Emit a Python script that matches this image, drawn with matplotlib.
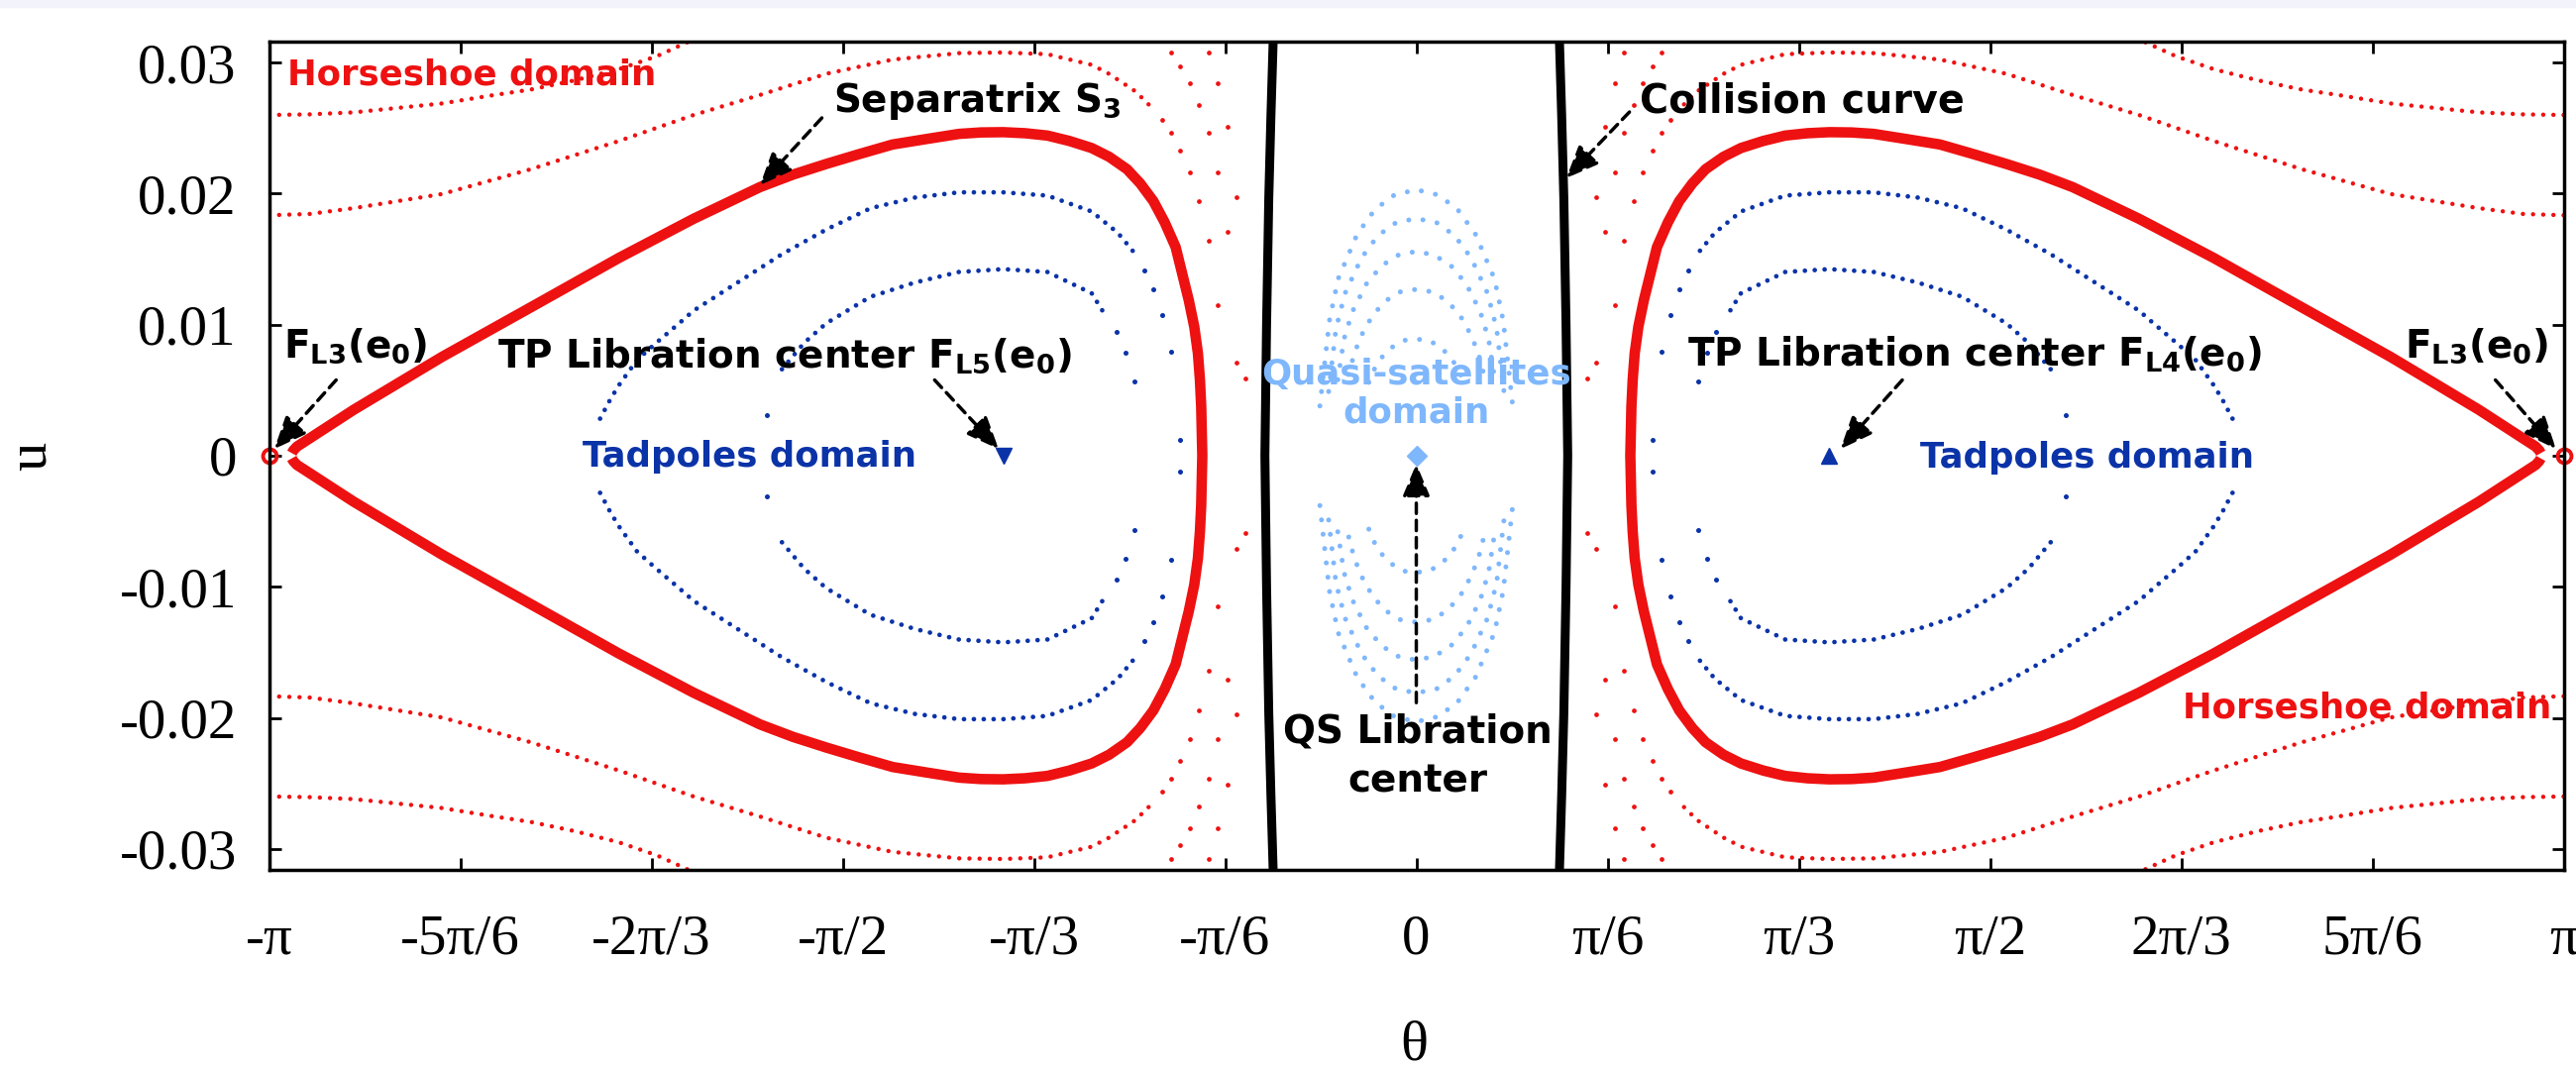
import numpy as np
import matplotlib
matplotlib.use("Agg")
import matplotlib.pyplot as plt
from matplotlib.patches import Rectangle

PI = np.pi
RED = "#ee1111"
BLUE = "#0b33a8"
LBLUE = "#7fb7fc"

# ------------------------------------------------------------------
# Values, upper-left quadrant (theta < 0, u > 0).
# The portrait is symmetric: the other quadrants are its mirror images
# in theta and in u.
# ------------------------------------------------------------------

# separatrix S3, from the L3 cusp to u = 0 next to the collision curve
sep_theta = [-3.079, -3.075, -3.065, -3.050, -3.030, -2.910, -2.668, -2.425,
             -2.183, -1.979, -1.888, -1.797, -1.707, -1.615, -1.525, -1.434,
             -1.343, -1.252, -1.192, -1.131, -1.071, -1.010, -0.950, -0.889,
             -0.841, -0.792, -0.756, -0.720, -0.689, -0.659, -0.641, -0.623,
             -0.608, -0.598, -0.5925, -0.589, -0.5875, -0.586]
sep_u = [0.0002, 0.0004, 0.0007, 0.00097, 0.00133, 0.0035, 0.00754, 0.01132,
         0.0151, 0.01808, 0.01929, 0.0205, 0.02145, 0.02227, 0.02302, 0.02375,
         0.02416, 0.02456, 0.02467, 0.02469, 0.02461, 0.02443, 0.02402, 0.02348,
         0.02281, 0.02186, 0.02078, 0.01943, 0.01781, 0.01592, 0.01389, 0.01186,
         0.00984, 0.00782, 0.00579, 0.00376, 0.00187, 0.0]

# tadpole orbits around L5 (dotted arcs + isolated dots on the steep ends)
tp_outer_theta = [-2.235, -2.207, -2.183, -2.134, -2.086, -2.013, -1.979, -1.859,
                  -1.737, -1.615, -1.494, -1.373, -1.252, -1.131, -1.010, -0.889,
                  -0.817, -0.769]
tp_outer_u = [0.00283, 0.0043, 0.0054, 0.0073, 0.0085, 0.01024, 0.01107, 0.01321,
              0.01538, 0.01727, 0.01889, 0.0197, 0.0201, 0.0201, 0.01985, 0.01864,
              0.0170, 0.01538]
tp_outer_end_theta = [-0.746, -0.720, -0.696, -0.671, -0.647]
tp_outer_end_u = [0.01416, 0.01267, 0.01077, 0.00797, 0.0012]

tp_inner_theta = [-1.737, -1.676, -1.616, -1.495, -1.374, -1.253, -1.131, -1.010,
                  -0.889, -0.847]
tp_inner_u = [0.0066, 0.00862, 0.0101, 0.01213, 0.01321, 0.01402, 0.01424, 0.01402,
              0.0124, 0.01051]
tp_inner_end_theta = [-1.779, -0.821, -0.796, -0.7705]
tp_inner_end_u = [0.00308, 0.00943, 0.00787, 0.0057]

# horseshoe orbits
hs_inner_theta = [-PI, -3.03, -2.910, -2.668, -2.425, -2.183, -1.979, -1.797, -1.615,
                  -1.434, -1.252, -1.131, -1.010, -0.889, -0.842, -0.798, -0.769, -0.720]
hs_inner_u = [0.01835, 0.01845, 0.01889, 0.01997, 0.02186, 0.02402, 0.0260, 0.02753,
              0.02915, 0.03023, 0.03072, 0.03077, 0.03064, 0.02983, 0.02915, 0.02834,
              0.0278, 0.02645]
hs_inner_steep_theta = [-0.6957, -0.6713, -0.6469, -0.6192, -0.5948, -0.5682, -0.5440]
hs_inner_steep_u = [0.02564, 0.02461, 0.02326, 0.02164, 0.01943, 0.01638, 0.01146]

hs_outer_theta = [-PI, -3.03, -2.910, -2.668, -2.5285, -2.425, -2.3036, -2.183,
                  -2.0785, -1.977]
hs_outer_u = [0.0260, 0.02605, 0.0262, 0.02688, 0.02751, 0.02794, 0.02865, 0.02950,
              0.03050, 0.0318]
hs_outer_steep_theta = [-0.6713, -0.6469, -0.6192, -0.5948, -0.5682, -0.5440, -0.5174,
                        -0.4919]
hs_outer_steep_u = [0.03077, 0.02969, 0.02843, 0.02677, 0.02461, 0.02164, 0.01708,
                    0.00714]

# orbit whose arc lies above the frame, only its steep part is visible
hs_top_steep_theta = [-0.5682, -0.5440, -0.5174, -0.4919, -0.4677]
hs_top_steep_u = [0.03077, 0.02843, 0.0251, 0.01975, 0.00592]

# collision curve (left one, full height)
col_theta = [-0.390, -0.392, -0.398, -0.404, -0.410, -0.4146, -0.410, -0.404, -0.398,
             -0.392, -0.390]
col_u = [0.0330, 0.0316, 0.026, 0.0196, 0.010, 0.0, -0.010, -0.0196, -0.026, -0.0316,
         -0.0330]

# quasi-satellite orbits: right half of each upper arc (from the top outwards)
qs_theta = [
    [0.0, 0.060, 0.113, 0.162, 0.214, 0.238, 0.264],
    [0.0, 0.055, 0.105, 0.150, 0.195, 0.220, 0.240],
    [0.0, 0.050, 0.095, 0.137, 0.175, 0.198, 0.215],
    [0.0, 0.045, 0.085, 0.120, 0.150, 0.170, 0.185],
    [0.0, 0.035, 0.065, 0.092, 0.115, 0.130],
]
qs_u = [
    [0.0203, 0.0199, 0.0188, 0.0169, 0.0135, 0.0103, 0.0038],
    [0.0181, 0.0178, 0.0168, 0.0151, 0.0124, 0.0097, 0.0049],
    [0.0156, 0.0153, 0.0145, 0.0131, 0.0110, 0.0089, 0.0058],
    [0.0127, 0.0125, 0.0118, 0.0107, 0.0092, 0.0078, 0.0062],
    [0.0089, 0.0088, 0.0083, 0.0076, 0.0066, 0.0056],
]

# equilibria
l3_theta = [-PI, PI]
l5_theta, l4_theta = -1.131, 1.131

xtick_labels = ["-π", "-5π/6", "-2π/3", "-π/2", "-π/3", "-π/6", "0",
                "π/6", "π/3", "π/2", "2π/3", "5π/6", "π"]
ytick_values = [-0.03, -0.02, -0.01, 0.0, 0.01, 0.02, 0.03]
ytick_labels = ["-0.03", "-0.02", "-0.01", "0", "0.01", "0.02", "0.03"]


def mirrors(th, u):
    th = np.asarray(th, dtype=float)
    u = np.asarray(u, dtype=float)
    return [(th, u), (th, -u), (-th, u), (-th, -u)]


def dotted(ax, th, u, color, lw=3.2, gap=2.3, z=3):
    ax.plot(th, u, color=color, lw=lw, ls=(0, (0.01, gap)),
            dash_capstyle="round", zorder=z)


def dots(ax, th, u, color, ms=3.4, z=3):
    ax.plot(th, u, ls="none", marker="o", ms=ms, mec="none", color=color, zorder=z)


def dashed_arrow(ax, start, tip):
    ax.annotate("", xy=tip, xytext=start,
                arrowprops=dict(arrowstyle="-|>,head_length=1.0,head_width=0.42",
                                mutation_scale=20, lw=2.5, ls=(0, (3, 2)),
                                color="black", shrinkA=0, shrinkB=0),
                zorder=6)


plt.rcParams["mathtext.fontset"] = "dejavusans"

fig = plt.figure(figsize=(26, 10.81), dpi=100)
fig.patches.append(Rectangle((0, 1 - 7 / 1081), 1, 7 / 1081, transform=fig.transFigure,
                             color="#f3f3fb", zorder=0))
ax = fig.add_axes([271.5 / 2600, 1 - 878 / 1081, 2316 / 2600, 836 / 1081])
ax.set_xlim(-PI, PI)
ax.set_ylim(-0.0316, 0.0316)

# horseshoe orbits
for th, u in mirrors(hs_inner_theta, hs_inner_u):
    dotted(ax, th, u, RED)
for th, u in mirrors(hs_outer_theta, hs_outer_u):
    dotted(ax, th, u, RED)
for th, u in (mirrors(hs_inner_steep_theta, hs_inner_steep_u) +
              mirrors(hs_outer_steep_theta, hs_outer_steep_u) +
              mirrors(hs_top_steep_theta, hs_top_steep_u)):
    dots(ax, th, u, RED)

# tadpole orbits
for th, u in mirrors(tp_outer_theta, tp_outer_u) + mirrors(tp_inner_theta, tp_inner_u):
    dotted(ax, th, u, BLUE, lw=3.4, gap=2.1)
for th, u in (mirrors(tp_outer_end_theta, tp_outer_end_u) +
              mirrors(tp_inner_end_theta, tp_inner_end_u)):
    dots(ax, th, u, BLUE, ms=3.6)

# quasi-satellite orbits
for th_half, u_half in zip(qs_theta, qs_u):
    th_half = np.asarray(th_half)
    u_half = np.asarray(u_half)
    th_arc = np.concatenate([-th_half[::-1], th_half[1:]])
    u_arc = np.concatenate([u_half[::-1], u_half[1:]])
    dotted(ax, th_arc, u_arc, LBLUE, lw=3.6, gap=2.9)
    dotted(ax, th_arc, -u_arc, LBLUE, lw=3.6, gap=2.9)

# separatrix S3 (both loops)
th = np.asarray(sep_theta)
u = np.asarray(sep_u)
loop_th = np.concatenate([th, th[::-1][1:]])
loop_u = np.concatenate([u, -u[::-1][1:]])
for sgn in (1, -1):
    ax.plot(sgn * loop_th, loop_u, color=RED, lw=7.6, solid_capstyle="butt",
            solid_joinstyle="round", zorder=4)

# collision curve
col_theta = np.asarray(col_theta)
for sgn in (1, -1):
    ax.plot(sgn * col_theta, col_u, color="black", lw=6.5, zorder=4)

# equilibria
ax.plot(l3_theta, [0, 0], ls="none", marker="o", ms=10, mfc="none", mec=RED,
        mew=2.8, clip_on=False, zorder=7)
ax.plot([l5_theta], [0], ls="none", marker="v", ms=12, color=BLUE, zorder=7)
ax.plot([l4_theta], [0], ls="none", marker="^", ms=12, color=BLUE, zorder=7)
ax.plot([0], [0], ls="none", marker="D", ms=10, color=LBLUE, zorder=7)

# labels
bold = dict(fontfamily="DejaVu Sans", fontweight="bold", va="baseline", zorder=8)
dom = 25.6
ax.text(-3.0914, 0.02834, "Horseshoe domain", color=RED, fontsize=dom, **bold)
ax.text(2.0986, -0.0200, "Horseshoe domain", color=RED, fontsize=dom, **bold)
ax.text(-2.2818, -0.0008, "Tadpoles domain", color=BLUE, fontsize=dom, **bold)
ax.text(1.3796, -0.0009, "Tadpoles domain", color=BLUE, fontsize=dom, **bold)
ax.text(0.0, 0.00548, "Quasi-satellites", color=LBLUE, fontsize=dom, ha="center", **bold)
ax.text(0.0, 0.00255, "domain", color=LBLUE, fontsize=dom, ha="center", **bold)

ax.text(-1.5976, 0.02623, r"Separatrix S$_\mathbf{3}$", color="black", fontsize=28, **bold)
ax.text(0.6129, 0.02623, "Collision curve", color="black", fontsize=28.5, **bold)
ax.text(-2.5163, 0.00673, r"TP Libration center F$_{\mathbf{L5}}$(e$_{\mathbf{0}}$)",
        color="black", fontsize=28, **bold)
ax.text(0.7412, 0.00687, r"TP Libration center F$_{\mathbf{L4}}$(e$_{\mathbf{0}}$)",
        color="black", fontsize=28, **bold)
ax.text(-3.1031, 0.00754, r"F$_{\mathbf{L3}}$(e$_{\mathbf{0}}$)", color="black",
        fontsize=28, **bold)
ax.text(2.7054, 0.00754, r"F$_{\mathbf{L3}}$(e$_{\mathbf{0}}$)", color="black",
        fontsize=28, **bold)
ax.text(0.005, -0.02188, "QS Libration", color="black", fontsize=28, ha="center", **bold)
ax.text(0.005, -0.02565, "center", color="black", fontsize=28, ha="center", **bold)

dashed_arrow(ax, (-1.6277, 0.02578), (-1.7973, 0.02064))
dashed_arrow(ax, (0.5836, 0.02623), (0.4105, 0.02118))
dashed_arrow(ax, (-1.3190, 0.00578), (-1.1435, 0.00051))
dashed_arrow(ax, (1.3308, 0.00578), (1.1615, 0.00051))
dashed_arrow(ax, (-2.9577, 0.00578), (-3.1272, 0.00051))
dashed_arrow(ax, (2.9548, 0.00578), (3.1208, 0.00051))
dashed_arrow(ax, (0.0, -0.01884), (0.0, -0.00061))

# axes
ax.set_xticks(np.arange(-6, 7) * PI / 6)
ax.set_xticklabels(xtick_labels)
ax.set_yticks(ytick_values)
ax.set_yticklabels(ytick_labels)
for lab in ax.get_xticklabels() + ax.get_yticklabels():
    lab.set_fontfamily("Liberation Serif")
    lab.set_fontsize(41)
ax.tick_params(axis="both", direction="in", length=8.3, width=2.0, top=True, right=True)
ax.tick_params(axis="x", pad=32)
ax.tick_params(axis="y", pad=23.5)
for sp in ax.spines.values():
    sp.set_linewidth(2.5)
    sp.set_zorder(9)

fig.text(31.5 / 2600, 1 - 460.5 / 1081, "u", rotation=90, fontfamily="Liberation Serif",
         fontsize=42, ha="center", va="center")
fig.text(1427 / 2600, 1 - 1055 / 1081, "θ", fontfamily="Liberation Serif",
         fontsize=42, ha="center", va="center")

fig.savefig("out.png", dpi=100)
